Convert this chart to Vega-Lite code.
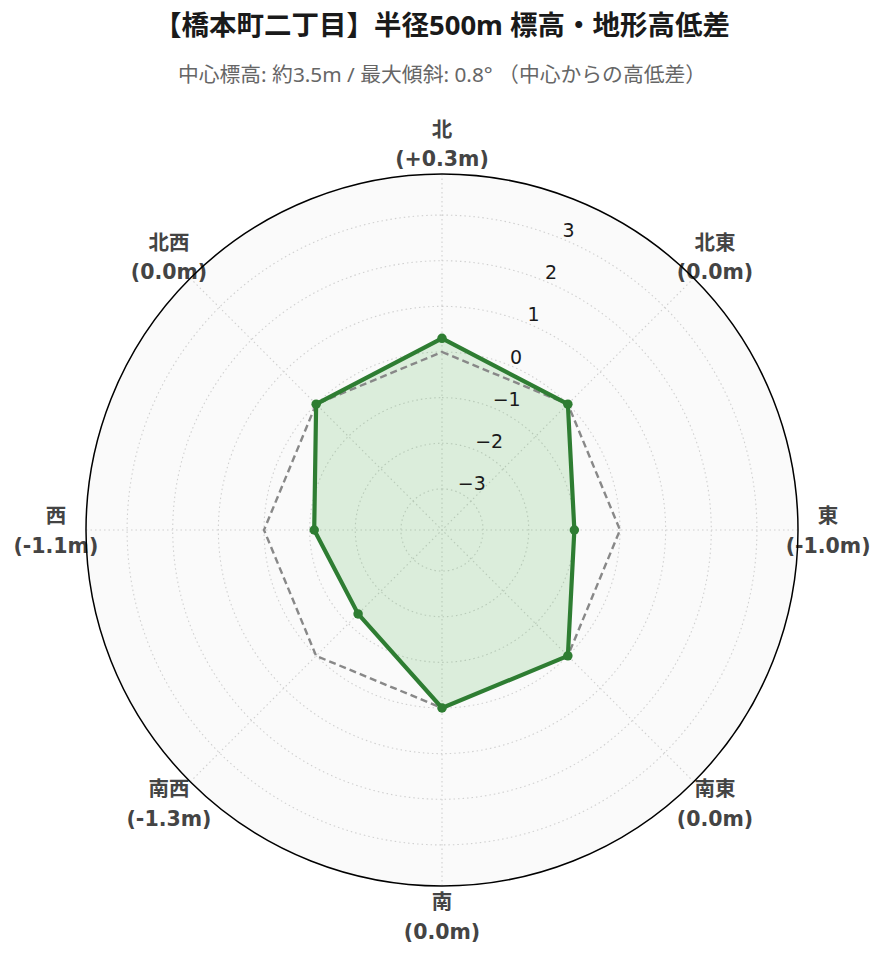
{
  "$schema": "https://vega.github.io/schema/vega-lite/v6.json",
  "width": 712,
  "height": 712,
  "autosize": {"type": "none"},
  "padding": {"left": 86, "top": 174, "right": 87, "bottom": 76},
  "background": "white",
  "config": {"view": {"stroke": null}},
  "title": {
    "text": "【橋本町二丁目】半径500m 標高・地形高低差",
    "subtitle": "中心標高: 約3.5m / 最大傾斜: 0.8° （中心からの高低差）",
    "anchor": "middle",
    "font": "Noto Sans, Noto Sans CJK JP",
    "fontSize": 27.5,
    "fontWeight": "bold",
    "color": "#1a1a1a",
    "subtitleFont": "Noto Sans, Noto Sans CJK JP",
    "subtitleFontSize": 20.8,
    "subtitleColor": "#666666",
    "subtitlePadding": 26,
    "offset": 35
  },
  "datasets": {
    "dirs": [
      {"series": "高低差", "dir": "北", "value": 0.3},
      {"series": "高低差", "dir": "北東", "value": 0.0},
      {"series": "高低差", "dir": "東", "value": -1.0},
      {"series": "高低差", "dir": "南東", "value": 0.0},
      {"series": "高低差", "dir": "南", "value": 0.0},
      {"series": "高低差", "dir": "南西", "value": -1.3},
      {"series": "高低差", "dir": "西", "value": -1.1},
      {"series": "高低差", "dir": "北西", "value": 0.0},
      {"series": "基準", "dir": "北", "value": 0},
      {"series": "基準", "dir": "北東", "value": 0},
      {"series": "基準", "dir": "東", "value": 0},
      {"series": "基準", "dir": "南東", "value": 0},
      {"series": "基準", "dir": "南", "value": 0},
      {"series": "基準", "dir": "南西", "value": 0},
      {"series": "基準", "dir": "西", "value": 0},
      {"series": "基準", "dir": "北西", "value": 0}
    ],
    "rings": [
      {"v": -3, "kind": "grid"},
      {"v": -2, "kind": "grid"},
      {"v": -1, "kind": "grid"},
      {"v": 0, "kind": "grid"},
      {"v": 1, "kind": "grid"},
      {"v": 2, "kind": "grid"},
      {"v": 3, "kind": "grid"},
      {"v": 3.9, "kind": "outer"}
    ]
  },
  "layer": [
    {
      "data": {"name": "rings"},
      "transform": [{"filter": "datum.kind === 'outer'"}],
      "mark": {"type": "arc", "theta": 0, "theta2": 6.2832, "radius2": 0, "fill": "#fafafa"},
      "encoding": {
        "radius": {"field": "v", "type": "quantitative", "stack": null, "scale": {"type": "linear", "domain": [-3.9, 3.9], "range": [0, 356], "zero": false, "nice": false}}
      }
    },
    {
      "data": {"name": "rings"},
      "transform": [{"filter": "datum.kind === 'grid'"}],
      "mark": {"type": "arc", "theta": 0, "theta2": 6.2832, "radius2": 0, "filled": false, "stroke": "#d0d0d0", "strokeWidth": 1.1, "strokeDash": [1.5, 3]},
      "encoding": {
        "radius": {"field": "v", "type": "quantitative", "stack": null, "scale": {"type": "linear", "domain": [-3.9, 3.9], "range": [0, 356], "zero": false, "nice": false}}
      }
    },
    {
      "data": {"name": "dirs"},
      "transform": [
        {"filter": "datum.series === '高低差'"},
        {"calculate": "indexof(['北','北東','東','南東','南','南西','西','北西'], datum.dir) * PI / 4", "as": "ang"},
        {"calculate": "7.8 * sin(datum.ang)", "as": "ex"},
        {"calculate": "7.8 * cos(datum.ang)", "as": "ey"}
      ],
      "mark": {"type": "rule", "stroke": "#d0d0d0", "strokeWidth": 1.1, "strokeDash": [1.5, 3]},
      "encoding": {
        "x": {"field": "ex", "type": "quantitative", "scale": {"domain": [-7.8, 7.8], "nice": false, "zero": false}, "axis": null},
        "y": {"field": "ey", "type": "quantitative", "scale": {"domain": [-7.8, 7.8], "nice": false, "zero": false}, "axis": null},
        "x2": {"datum": 0},
        "y2": {"datum": 0}
      }
    },
    {
      "data": {"name": "dirs"},
      "transform": [
        {"calculate": "indexof(['北','北東','東','南東','南','南西','西','北西'], datum.dir) * PI / 4", "as": "ang"},
        {"calculate": "(datum.value + 3.9) * sin(datum.ang)", "as": "px"},
        {"calculate": "(datum.value + 3.9) * cos(datum.ang)", "as": "py"}
      ],
      "encoding": {
        "x": {"field": "px", "type": "quantitative", "scale": {"domain": [-7.8, 7.8], "nice": false, "zero": false}, "axis": null},
        "y": {"field": "py", "type": "quantitative", "scale": {"domain": [-7.8, 7.8], "nice": false, "zero": false}, "axis": null},
        "order": {"field": "ang", "type": "quantitative"}
      },
      "layer": [
        {
          "transform": [{"filter": "datum.series === '高低差'"}],
          "mark": {"type": "line", "interpolate": "linear-closed", "fill": "#4caf50", "fillOpacity": 0.18, "strokeWidth": 0}
        },
        {
          "transform": [{"filter": "datum.series === '基準'"}],
          "mark": {"type": "line", "interpolate": "linear-closed", "stroke": "#888888", "strokeWidth": 2.4, "strokeDash": [7, 4]}
        },
        {
          "transform": [{"filter": "datum.series === '高低差'"}],
          "mark": {"type": "line", "interpolate": "linear-closed", "stroke": "#2e7d32", "strokeWidth": 4.2}
        },
        {
          "transform": [{"filter": "datum.series === '高低差'"}],
          "mark": {"type": "point", "filled": true, "color": "#2e7d32", "size": 90, "opacity": 1}
        }
      ]
    },
    {
      "data": {"name": "dirs"},
      "transform": [
        {"filter": "datum.series === '高低差'"},
        {"calculate": "indexof(['北','北東','東','南東','南','南西','西','北西'], datum.dir) * PI / 4", "as": "ang"},
        {"calculate": "8.46 * sin(datum.ang)", "as": "lx"},
        {"calculate": "8.46 * cos(datum.ang)", "as": "ly"},
        {"calculate": "datum.dir + '\\n(' + (datum.value > 0 ? '+' : datum.value < 0 ? '-' : '') + format(abs(datum.value), '.1f') + 'm)'", "as": "label"}
      ],
      "mark": {"type": "text", "align": "center", "baseline": "middle", "dy": -13, "lineBreak": "\n", "lineHeight": 29.5, "font": "DejaVu Sans, Noto Sans CJK JP", "fontSize": 20.5, "fontWeight": "bold", "color": "#444444"},
      "encoding": {
        "x": {"field": "lx", "type": "quantitative", "scale": {"domain": [-7.8, 7.8], "nice": false, "zero": false}, "axis": null},
        "y": {"field": "ly", "type": "quantitative", "scale": {"domain": [-7.8, 7.8], "nice": false, "zero": false}, "axis": null},
        "text": {"field": "label", "type": "nominal"}
      }
    },
    {
      "data": {"name": "rings"},
      "transform": [
        {"filter": "datum.kind === 'grid'"},
        {"calculate": "(datum.v + 3.9) * sin(PI / 8)", "as": "tx"},
        {"calculate": "(datum.v + 3.9) * cos(PI / 8)", "as": "ty"}
      ],
      "mark": {"type": "text", "align": "left", "baseline": "alphabetic", "dy": -2, "font": "DejaVu Sans", "fontSize": 19, "color": "#1a1a1a"},
      "encoding": {
        "x": {"field": "tx", "type": "quantitative", "scale": {"domain": [-7.8, 7.8], "nice": false, "zero": false}, "axis": null},
        "y": {"field": "ty", "type": "quantitative", "scale": {"domain": [-7.8, 7.8], "nice": false, "zero": false}, "axis": null},
        "text": {"field": "v", "type": "quantitative", "format": "d"}
      }
    },
    {
      "data": {"name": "rings"},
      "transform": [{"filter": "datum.kind === 'outer'"}],
      "mark": {"type": "arc", "theta": 0, "theta2": 6.2832, "radius2": 0, "filled": false, "stroke": "#000000", "strokeWidth": 1.5},
      "encoding": {
        "radius": {"field": "v", "type": "quantitative", "stack": null, "scale": {"type": "linear", "domain": [-3.9, 3.9], "range": [0, 356], "zero": false, "nice": false}}
      }
    }
  ]
}
